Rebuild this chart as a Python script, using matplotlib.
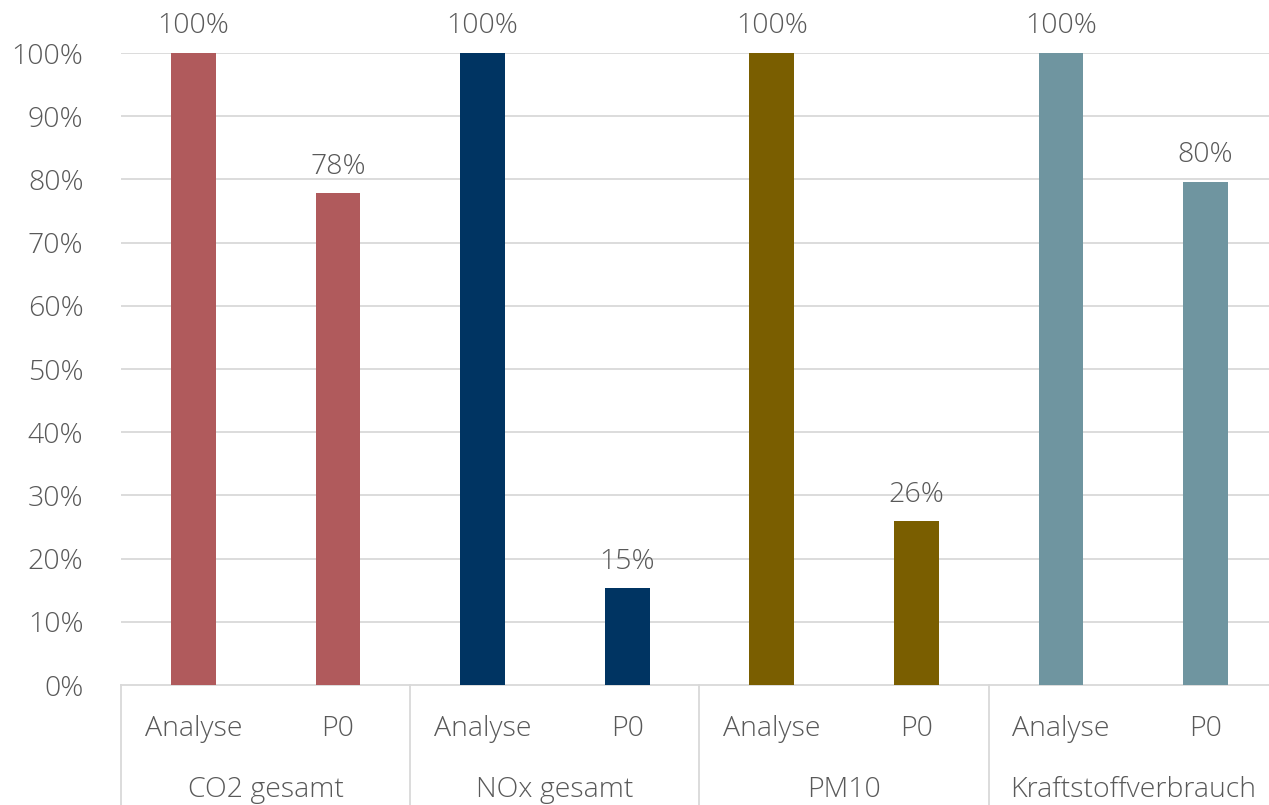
import numpy as np
import matplotlib.pyplot as plt

groups = ["CO2 gesamt", "NOx gesamt", "PM10", "Kraftstoffverbrauch"]
scenarios = ["Analyse", "P0"]
analyse = [100, 100, 100, 100]
p0 = [77.8, 15.3, 25.9, 79.6]
colors = ["#B05A5C", "#003462", "#7A5E00", "#6F95A0"]
yticks = list(range(0, 101, 10))

plt.rcParams['font.family'] = ['Open Sans', 'DejaVu Sans']
plt.rcParams['font.weight'] = 'light'
txt = "#595959"
grid = "#D9D9D9"
fs = 20.5

W, H = 1269, 805
fig = plt.figure(figsize=(W / 100, H / 100), dpi=100)
x0, x1, y0, y1 = 121, 1278, 685, 53
ax = fig.add_axes([x0 / W, 1 - y0 / H, (x1 - x0) / W, (y0 - y1) / H])

n = len(groups)
bw = 0.31
for i in range(n):
    for j, vals in enumerate([analyse, p0]):
        xc = i * 2 + j + 0.5
        v = vals[i]
        ax.bar(xc, v, width=bw, color=colors[i], zorder=3)
        ax.text(xc, v + 2.0, f"{v:.0f}%", ha="center", va="bottom",
                fontsize=fs, color=txt, clip_on=False)

ax.set_xlim(0, 2 * n)
ax.set_ylim(0, 100)
ax.set_yticks(yticks)
ax.set_yticklabels([f"{t}%" for t in yticks])
ax.tick_params(axis="y", length=0, pad=27, labelsize=fs, labelcolor=txt)
ax.set_xticks([])
for t in yticks[1:]:
    ax.axhline(t, color=grid, lw=1.3, zorder=1)
for s in ["top", "right", "left"]:
    ax.spines[s].set_visible(False)
ax.spines["bottom"].set_color(grid)
ax.spines["bottom"].set_linewidth(1.3)

# two-level category axis below the plot
trans = ax.get_xaxis_transform()
for i in range(n + 1):
    ax.plot([2 * i, 2 * i], [0, -0.19], transform=trans, color=grid,
            lw=1.3, clip_on=False)
for i in range(n):
    for j, s in enumerate(scenarios):
        ax.text(2 * i + j + 0.5, -0.070, s, transform=trans, ha="center",
                va="center", fontsize=fs, color=txt)
    ax.text(2 * i + 1, -0.166, groups[i], transform=trans, ha="center",
            va="center", fontsize=fs, color=txt)

fig.savefig("out.png", dpi=100)
